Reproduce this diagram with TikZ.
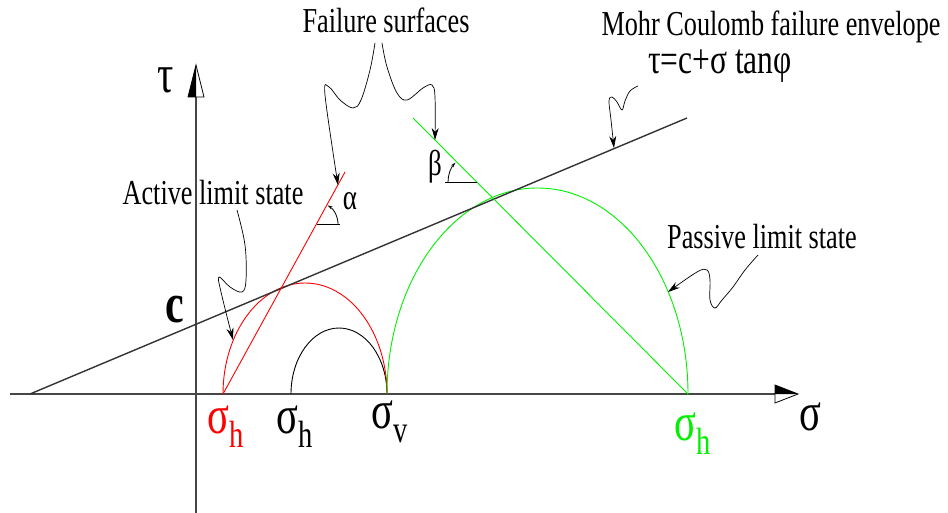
\documentclass[tikz,border=0pt]{standalone}
\usepackage{fontspec}
\setmainfont{Liberation Serif}[FakeStretch=0.75]
\usetikzlibrary{arrows.meta}
\definecolor{activered}{RGB}{255,0,0}
\definecolor{passivegreen}{RGB}{0,240,0}
\definecolor{axisgray}{RGB}{70,70,70}

% sigma with a large lowered index
\newcommand{\sigsub}[1]{σ\raisebox{-14pt}{\fontsize{38}{40}\selectfont #1}}

\begin{document}
\begin{tikzpicture}[x=1pt, y=-1pt,
    % Text styles
    tag/.style={font=\fontsize{35}{40}\selectfont, inner sep=0pt, anchor=base},
    greek/.style={font=\fontsize{54}{60}\selectfont, inner sep=0pt, anchor=base west},
    angletag/.style={font=\fontsize{36}{40}\selectfont, inner sep=0pt, anchor=base},
    % Line styles
    axis/.style={line width=1.3pt, color=axisgray},
    envelope/.style={line width=1.4pt, color=black!80},
    leader/.style={-{Stealth[length=12pt, width=7pt]}, line width=0.7pt},
    circ/.style={line width=0.9pt, color=#1},
    anglemark/.style={-{Stealth[length=5pt, width=3pt]}, line width=0.8pt}
]
\useasboundingbox (0,0) rectangle (948,513);

% ============================================
% AXES
% ============================================
\coordinate (origin) at (196,394);
\draw[axis] (10,394) -- (775,394);
\draw[axis] (196,513) -- (196,97);
% sigma arrow (upper half filled)
\fill[black] (798,394) -- (775,385) -- (775,394) -- cycle;
\draw[line width=0.8pt] (798,394) -- (775,385) -- (775,403) -- cycle;
% tau arrow (left half filled)
\fill[black] (196,65) -- (188,97) -- (196,97) -- cycle;
\draw[line width=0.8pt] (196,65) -- (188,97) -- (204,97) -- cycle;

\node[greek, anchor=base] (tauaxis) at (166,93) {τ};
\node[greek] (sigaxis) at (799,430) {σ};

% ============================================
% MOHR CIRCLES
% ============================================
\draw[circ=black] (387,394) arc[start angle=0, end angle=-180, x radius=48, y radius=66];
\draw[circ=activered] (387,394) arc[start angle=0, end angle=-180, x radius=82, y radius=111];
\draw[circ=passivegreen] (688,394) arc[start angle=0, end angle=-180, x radius=150.5, y radius=206];

% envelope
\draw[envelope] (30,394) -- (687,118);
\node[font=\bfseries\fontsize{56}{60}\selectfont, inner sep=0pt, anchor=base] (cohesion) at (175,322) {c};

% ============================================
% FAILURE PLANES
% ============================================
\coordinate (poleA) at (223,394);
\coordinate (poleP) at (688,394);
\draw[activered, line width=0.9pt] (poleA) -- (345,172);
\draw[passivegreen, line width=0.9pt] (poleP) -- (413,118);

% alpha
\draw[line width=0.9pt] (317,224) -- (340,224);
\draw[anglemark] (338,224) arc[start angle=0, end angle=-58, radius=22];
\node[angletag] (alpha) at (350,210) {α};

% beta
\draw[line width=0.9pt] (445,182) -- (477,182);
\draw[anglemark] (448,182) arc[start angle=180, end angle=222, radius=29];
\node[angletag] (beta) at (435,176) {β};

% ============================================
% STRESS LABELS
% ============================================
\node[greek, text=activered] (sha) at (207,433) {\sigsub{h}};
\node[greek] (sh0) at (276,433) {\sigsub{h}};
\node[greek] (sv0) at (371,428) {\sigsub{v}};
\node[greek, text=passivegreen] (shp) at (674,440) {\sigsub{h}};

% ============================================
% ANNOTATIONS
% ============================================
\node[tag] (active) at (213,205) {Active limit state};
\node[tag] (failure) at (386,33) {Failure surfaces};
\node[tag] (mohr) at (771,36) {Mohr Coulomb failure envelope};
\node[tag, font=\fontsize{42}{46}\selectfont] (law) at (720,74) {τ=c+σ tanφ};
\node[tag] (passive) at (762,248) {Passive limit state};

\coordinate (hitA) at (233,340);
\coordinate (hitR) at (338,185);
\coordinate (hitG) at (435,140);
\coordinate (hitE) at (614,148);
\coordinate (hitP) at (668,292);

\draw[leader] plot[smooth, tension=0.6] coordinates
    {(237,210) (245,245) (246,280) (242,292) (230,287) (219,277) (221,292) (hitA)};
\draw[leader] plot[smooth, tension=0.6] coordinates
    {(375,43) (370,70) (361,100) (353,108) (340,100) (329,87) (325,95) (hitR)};
\draw[leader] plot[smooth, tension=0.6] coordinates
    {(382,43) (387,67) (397,93) (407,100) (423,88) (432,85) (435,97) (hitG)};
\draw[leader] plot[smooth, tension=0.6] coordinates
    {(638,86) (630,91) (625,101) (622,110) (617,102) (612,97) (609,101) (611,120) (hitE)};
\draw[leader] plot[smooth, tension=0.6] coordinates
    {(758,255) (745,270) (733,287) (722,300) (715,308) (710,300) (710,280) (707,270) (697,272) (hitP)};

\end{tikzpicture}
\end{document}
